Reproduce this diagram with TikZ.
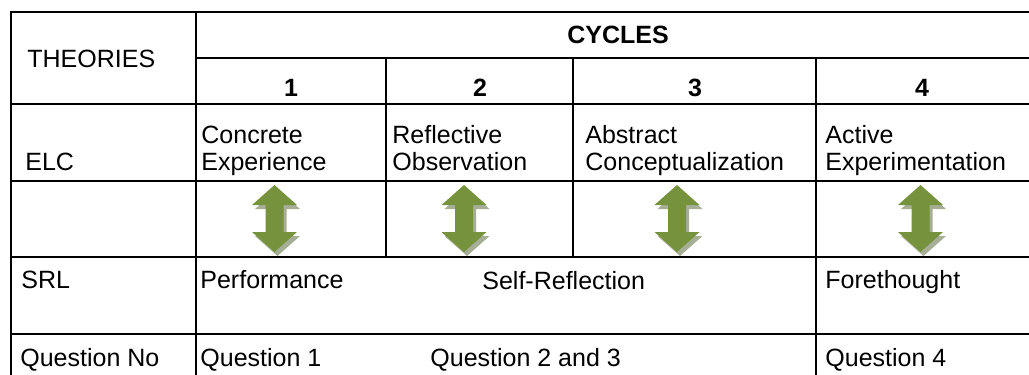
\documentclass[tikz,border=0pt]{standalone}
\usepackage{fontspec}
\setmainfont{Liberation Sans}
\newlength{\du}
\setlength{\du}{0.5\unitlength}
\definecolor{arrowgreen}{rgb}{0.463, 0.573, 0.235}
\definecolor{arrowshade}{rgb}{0.651, 0.682, 0.588}
\tikzset{
  gridline/.style={line width=2\du, black},
  celltext/.style={inner sep=0pt, anchor=base west, align=left, font=\fontsize{12.5}{13.5}\selectfont},
  headtext/.style={inner sep=0pt, anchor=base, font=\fontsize{12.5}{13.5}\selectfont\bfseries},
  twoway/.style={fill=arrowgreen},
  twowayshade/.style={fill=arrowshade},
}
\begin{document}
\begin{tikzpicture}
\pgftransformxscale{1.000000}
\pgftransformyscale{-1.000000}
\useasboundingbox (0\du,0\du) rectangle (1029\du,375\du);
% rows
\draw[gridline] (11\du,12\du)--(1032\du,12\du);
\draw[gridline] (196\du,58\du)--(1032\du,58\du);
\draw[gridline] (11\du,104\du)--(1032\du,104\du);
\draw[gridline] (11\du,181\du)--(1032\du,181\du);
\draw[gridline] (11\du,257\du)--(1032\du,257\du);
\draw[gridline] (11\du,334\du)--(1032\du,334\du);
% columns
\draw[gridline] (11\du,11\du)--(11\du,380\du);
\draw[gridline] (196\du,11\du)--(196\du,380\du);
\draw[gridline] (386\du,58\du)--(386\du,257\du);
\draw[gridline] (573\du,58\du)--(573\du,257\du);
\draw[gridline] (816\du,58\du)--(816\du,380\du);
% setfont left to latex
\node[celltext] (theories) at (27\du,68\du){THEORIES};
\node[headtext] (cycles) at (618\du,43\du){CYCLES};
\node[headtext] (num1) at (291\du,97\du){1};
\node[headtext] (num2) at (480\du,97\du){2};
\node[headtext] (num3) at (695\du,97\du){3};
\node[headtext] (num4) at (922\du,97\du){4};
% setfont left to latex
\node[celltext] (elc) at (25\du,170\du){ELC};
\node[celltext] (concrete) at (201\du,170\du){Concrete\\Experience};
\node[celltext] (reflective) at (392\du,170\du){Reflective\\Observation};
\node[celltext] (abstract) at (585\du,170\du){Abstract\\Conceptualization};
\node[celltext] (active) at (825\du,170\du){Active\\Experimentation};
% was here!!!
\foreach \cx in {274.5,464.0,677.0,920.5}{
\fill[twowayshade,shift={(\cx\du,185\du)}] (3\du,4\du)--(25.5\du,24\du)--(12\du,24\du)--(12\du,51\du)--(25.5\du,51\du)--(3\du,71\du)--(-19.5\du,51\du)--(-6\du,51\du)--(-6\du,24\du)--(-19.5\du,24\du)--cycle;
\fill[twoway,shift={(\cx\du,185\du)}] (0\du,0\du)--(22.5\du,20\du)--(9\du,20\du)--(9\du,47\du)--(22.5\du,47\du)--(0\du,67\du)--(-22.5\du,47\du)--(-9\du,47\du)--(-9\du,20\du)--(-22.5\du,20\du)--cycle;
}
% setfont left to latex
\node[celltext] (srl) at (21\du,288\du){SRL};
\node[celltext] (performance) at (200\du,288\du){Performance};
\node[celltext] (selfrefl) at (482\du,289\du){Self-Reflection};
\node[celltext] (forethought) at (825\du,288\du){Forethought};
\node[celltext] (qno) at (20\du,366\du){Question No};
\node[celltext] (qone) at (200\du,366\du){Question 1};
\node[celltext] (qtwothree) at (430\du,366\du){Question 2 and 3};
\node[celltext] (qfour) at (825\du,366\du){Question 4};
\end{tikzpicture}
\end{document}
